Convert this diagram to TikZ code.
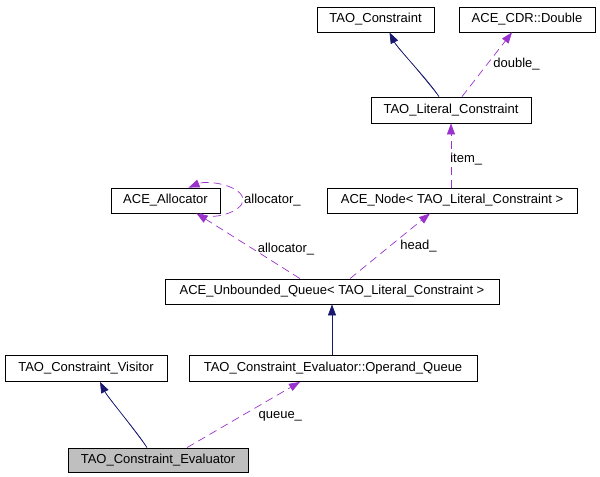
\documentclass[tikz,border=0pt]{standalone}
\usepackage{fontspec}
\setmainfont{Liberation Sans}
\usetikzlibrary{arrows.meta}
\definecolor{navy}{HTML}{191970}
\definecolor{orchid}{HTML}{9A32CD}
\definecolor{boxgray}{HTML}{BFBFBF}
\begin{document}
\begin{tikzpicture}[x=1bp,y=-1bp,
  cls/.style={draw=black,line width=0.8bp,fill=white,inner sep=0pt,minimum height=25bp,
    font=\fontsize{13bp}{15bp}\selectfont},
  inh/.style={draw=navy,line width=0.7bp,-{Triangle[length=11bp,width=8bp]},fill=navy},
  use/.style={draw=orchid,line width=0.7bp,dash pattern=on 8bp off 5bp,
    -{Triangle[length=11bp,width=8bp,fill=orchid]}},
  lbl/.style={font=\fontsize{13bp}{15bp}\selectfont,inner sep=0pt}]
\useasboundingbox (0,0) rectangle (600,477);
\node[cls,minimum width=117bp] (tc) at (375.5,19.5) {TAO\_Constraint};
\node[cls,minimum width=136bp] (cdr) at (527,19.5) {ACE\_CDR::Double};
\node[cls,minimum width=160bp,minimum height=26bp] (lit) at (451,110) {TAO\_Literal\_Constraint};
\node[cls,minimum width=109bp] (alloc) at (165.5,200.5) {ACE\_Allocator};
\node[cls,minimum width=250bp] (anode) at (452,200.5) {ACE\_Node< TAO\_Literal\_Constraint >};
\node[cls,minimum width=334bp] (uq) at (332,291.5) {ACE\_Unbounded\_Queue< TAO\_Literal\_Constraint >};
\node[cls,minimum width=162bp,minimum height=26bp] (vis) at (86,368.5) {TAO\_Constraint\_Visitor};
\node[cls,minimum width=288bp,minimum height=26bp] (oq) at (333,368.5) {TAO\_Constraint\_Evaluator::Operand\_Queue};
\node[cls,fill=boxgray,minimum width=180bp,minimum height=24bp] (ev) at (158,460) {TAO\_Constraint\_Evaluator};

% inheritance
\draw[inh] ([xshift=-12bp]lit.north) .. controls +(-12,-18) and +(8,16) .. ([xshift=14bp]tc.south);
\draw[inh] (oq.north -| uq.south) -- (uq.south);
\draw[inh] ([xshift=-11bp]ev.north) .. controls +(-10,-16) and +(8,16) .. ([xshift=14bp]vis.south);

% usage
\draw[use] ([xshift=11bp]lit.north) -- ([xshift=-15bp]cdr.south) node[lbl,pos=0.5,right=6bp] {double\_};
\draw[use] (anode.north -| lit.south) -- (lit.south) node[lbl,pos=0.45,right=-1bp] {item\_};
\draw[use] ([xshift=35bp]alloc.south) .. controls +(10,8) and +(0,12) .. (243,200)
   .. controls +(0,-14) and +(20,-8) .. ([xshift=23bp]alloc.north);
\node[lbl,anchor=west] (alab) at (244,200) {allocator\_};
\draw[use] ([xshift=-32bp]uq.north) -- ([xshift=31bp]alloc.south) node[lbl,pos=0.45,right=4bp] {allocator\_};
\draw[use] ([xshift=18bp]uq.north) -- ([xshift=-22bp]anode.south) node[lbl,pos=0.5,right=10bp] {head\_};
\draw[use] ([xshift=29bp]ev.north) -- ([xshift=-33bp]oq.south) node[lbl,pos=0.48,right=17bp] {queue\_};
\end{tikzpicture}
\end{document}
